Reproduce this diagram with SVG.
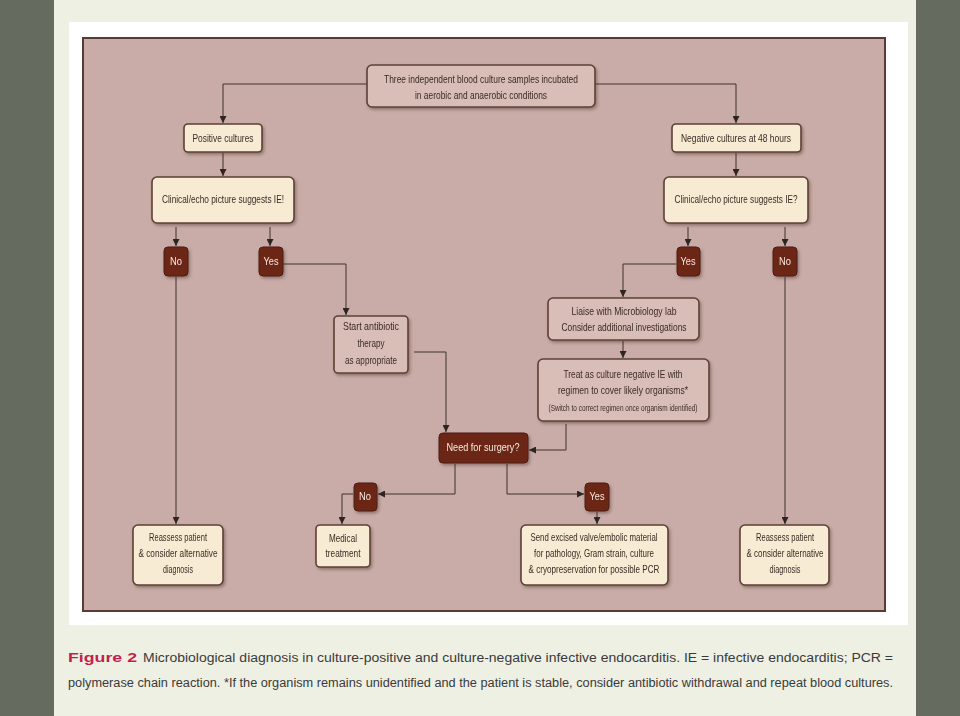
<svg xmlns="http://www.w3.org/2000/svg" width="960" height="716" viewBox="0 0 960 716">
<defs>
<style>
.t{font-family:"Liberation Sans",Arial,sans-serif;font-size:10.5px;fill:#3b2a26;text-anchor:middle}
.ts{font-family:"Liberation Sans",Arial,sans-serif;font-size:8.5px;fill:#3b2a26;text-anchor:middle}
.w{font-family:"Liberation Sans",Arial,sans-serif;font-size:10.5px;fill:#f6e8dc;text-anchor:middle}
.cream{fill:#f8ebd3;stroke:#5e4037;stroke-width:1.6}
.pinkb{fill:#d8beb6;stroke:#5e4037;stroke-width:1.6}
.dark{fill:#6c2819;stroke:#4a1a10;stroke-width:1}
.c{fill:none;stroke:#3e302c;stroke-width:1}
.cap{font-family:"Liberation Sans",Arial,sans-serif;font-size:12.5px;fill:#3a3a3a}
</style>
<marker id="ah" viewBox="0 0 8 8" refX="8" refY="4" markerWidth="7" markerHeight="7" markerUnits="userSpaceOnUse" orient="auto">
<path d="M0,0 L8,4 L0,8 z" fill="#2e2422"/>
</marker>
<filter id="sh" x="-20%" y="-20%" width="140%" height="150%">
<feDropShadow dx="1.5" dy="2" stdDeviation="1.5" flood-color="#4a3029" flood-opacity="0.45"/>
</filter>
</defs>

<rect x="0" y="0" width="960" height="716" fill="#eef0e4"/>
<rect x="0" y="0" width="54" height="716" fill="#666b5f"/>
<rect x="916" y="0" width="44" height="716" fill="#666b5f"/>
<rect x="69" y="22" width="839" height="603" fill="#ffffff"/>
<rect x="83" y="38" width="802" height="573" fill="#c9aca7" stroke="#5a3a32" stroke-width="2"/>

<g id="connectors">
<path class="c" d="M367 84 H223 V123" marker-end="url(#ah)"/>
<path class="c" d="M595 84 H736 V123" marker-end="url(#ah)"/>
<path class="c" d="M223 153 V176" marker-end="url(#ah)"/>
<path class="c" d="M736 153 V176" marker-end="url(#ah)"/>
<path class="c" d="M176 227 V246" marker-end="url(#ah)"/>
<path class="c" d="M270 227 V246" marker-end="url(#ah)"/>
<path class="c" d="M688 227 V246" marker-end="url(#ah)"/>
<path class="c" d="M785 227 V246" marker-end="url(#ah)"/>
<path class="c" d="M176 277 V524" marker-end="url(#ah)"/>
<path class="c" d="M283 264 H346 V315" marker-end="url(#ah)"/>
<path class="c" d="M676 264 H623 V297" marker-end="url(#ah)"/>
<path class="c" d="M785 277 V524" marker-end="url(#ah)"/>
<path class="c" d="M623 341 V358" marker-end="url(#ah)"/>
<path class="c" d="M414 352 H446 V432" marker-end="url(#ah)"/>
<path class="c" d="M566 424 V450 H529" marker-end="url(#ah)"/>
<path class="c" d="M455 464 V494 H378" marker-end="url(#ah)"/>
<path class="c" d="M353 494 H342 V524" marker-end="url(#ah)"/>
<path class="c" d="M507 464 V494 H584" marker-end="url(#ah)"/>
<path class="c" d="M597 512 V524" marker-end="url(#ah)"/>
</g>

<g id="start" filter="url(#sh)">
<rect class="pinkb" x="367" y="65" width="228" height="42" rx="5"/>
<text class="t" x="481" y="83" textLength="194" lengthAdjust="spacingAndGlyphs">Three independent blood culture samples incubated</text>
<text class="t" x="481" y="99" textLength="132" lengthAdjust="spacingAndGlyphs">in aerobic and anaerobic conditions</text>
</g>

<g id="positive" filter="url(#sh)">
<rect class="cream" x="184" y="124" width="78" height="28" rx="4"/>
<text class="t" x="223" y="142" textLength="61" lengthAdjust="spacingAndGlyphs">Positive cultures</text>
</g>

<g id="negative" filter="url(#sh)">
<rect class="cream" x="672" y="124" width="129" height="28" rx="4"/>
<text class="t" x="736" y="142" textLength="110" lengthAdjust="spacingAndGlyphs">Negative cultures at 48 hours</text>
</g>

<g id="clinical-left" filter="url(#sh)">
<rect class="cream" x="152" y="177" width="142" height="46" rx="5"/>
<text class="t" x="223" y="203" textLength="122" lengthAdjust="spacingAndGlyphs">Clinical/echo picture suggests IE!</text>
</g>

<g id="clinical-right" filter="url(#sh)">
<rect class="cream" x="664" y="177" width="144" height="46" rx="5"/>
<text class="t" x="736" y="203" textLength="123" lengthAdjust="spacingAndGlyphs">Clinical/echo picture suggests IE?</text>
</g>

<g id="no-left" filter="url(#sh)">
<rect class="dark" x="164" y="247" width="24" height="29" rx="4"/>
<text class="w" x="176" y="265" textLength="12" lengthAdjust="spacingAndGlyphs">No</text>
</g>
<g id="yes-left" filter="url(#sh)">
<rect class="dark" x="259" y="247" width="24" height="29" rx="4"/>
<text class="w" x="271" y="265" textLength="15" lengthAdjust="spacingAndGlyphs">Yes</text>
</g>
<g id="yes-right" filter="url(#sh)">
<rect class="dark" x="677" y="247" width="23" height="29" rx="4"/>
<text class="w" x="688" y="265" textLength="15" lengthAdjust="spacingAndGlyphs">Yes</text>
</g>
<g id="no-right" filter="url(#sh)">
<rect class="dark" x="773" y="247" width="24" height="29" rx="4"/>
<text class="w" x="785" y="265" textLength="12" lengthAdjust="spacingAndGlyphs">No</text>
</g>

<g id="start-antibiotic" filter="url(#sh)">
<rect class="pinkb" x="334" y="316" width="74" height="57" rx="4"/>
<text class="t" x="371" y="330" textLength="56" lengthAdjust="spacingAndGlyphs">Start antibiotic</text>
<text class="t" x="371" y="347" textLength="27" lengthAdjust="spacingAndGlyphs">therapy</text>
<text class="t" x="371" y="364" textLength="52" lengthAdjust="spacingAndGlyphs">as appropriate</text>
</g>

<g id="liaise" filter="url(#sh)">
<rect class="pinkb" x="548" y="298" width="151" height="42" rx="5"/>
<text class="t" x="624" y="315" textLength="105" lengthAdjust="spacingAndGlyphs">Liaise with Microbiology lab</text>
<text class="t" x="624" y="331" textLength="125" lengthAdjust="spacingAndGlyphs">Consider additional investigations</text>
</g>

<g id="treat" filter="url(#sh)">
<rect class="pinkb" x="538" y="359" width="171" height="62" rx="5"/>
<text class="t" x="623" y="378" textLength="119" lengthAdjust="spacingAndGlyphs">Treat as culture negative IE with</text>
<text class="t" x="623" y="394" textLength="130" lengthAdjust="spacingAndGlyphs">regimen to cover likely organisms*</text>
<text class="ts" x="623" y="411" textLength="149" lengthAdjust="spacingAndGlyphs">(Switch to correct regimen once organism identified)</text>
</g>

<g id="surgery" filter="url(#sh)">
<rect class="dark" x="439" y="433" width="89" height="30" rx="4"/>
<text class="w" x="483" y="451" textLength="73" lengthAdjust="spacingAndGlyphs">Need for surgery?</text>
</g>

<g id="no-surgery" filter="url(#sh)">
<rect class="dark" x="354" y="483" width="23" height="28" rx="4"/>
<text class="w" x="365" y="500" textLength="12" lengthAdjust="spacingAndGlyphs">No</text>
</g>
<g id="yes-surgery" filter="url(#sh)">
<rect class="dark" x="585" y="483" width="24" height="28" rx="4"/>
<text class="w" x="597" y="500" textLength="15" lengthAdjust="spacingAndGlyphs">Yes</text>
</g>

<g id="reassess-left" filter="url(#sh)">
<rect class="cream" x="133" y="525" width="90" height="60" rx="5"/>
<text class="t" x="178" y="541" textLength="58" lengthAdjust="spacingAndGlyphs">Reassess patient</text>
<text class="t" x="178" y="557" textLength="79" lengthAdjust="spacingAndGlyphs">&amp; consider alternative</text>
<text class="t" x="178" y="573" textLength="30" lengthAdjust="spacingAndGlyphs">diagnosis</text>
</g>

<g id="medical" filter="url(#sh)">
<rect class="cream" x="316" y="525" width="54" height="42" rx="4"/>
<text class="t" x="343" y="542" textLength="28" lengthAdjust="spacingAndGlyphs">Medical</text>
<text class="t" x="343" y="557" textLength="35" lengthAdjust="spacingAndGlyphs">treatment</text>
</g>

<g id="send" filter="url(#sh)">
<rect class="cream" x="521" y="525" width="147" height="60" rx="5"/>
<text class="t" x="594" y="541" textLength="127" lengthAdjust="spacingAndGlyphs">Send excised valve/embolic material</text>
<text class="t" x="594" y="557" textLength="120" lengthAdjust="spacingAndGlyphs">for pathology, Gram strain, culture</text>
<text class="t" x="594" y="573" textLength="131" lengthAdjust="spacingAndGlyphs">&amp; cryopreservation for possible PCR</text>
</g>

<g id="reassess-right" filter="url(#sh)">
<rect class="cream" x="740" y="525" width="89" height="60" rx="5"/>
<text class="t" x="785" y="541" textLength="58" lengthAdjust="spacingAndGlyphs">Reassess patient</text>
<text class="t" x="785" y="557" textLength="77" lengthAdjust="spacingAndGlyphs">&amp; consider alternative</text>
<text class="t" x="785" y="573" textLength="31" lengthAdjust="spacingAndGlyphs">diagnosis</text>
</g>

<g id="caption">
<text class="cap" x="68" y="662" font-weight="bold" style="fill:#c41e4a;font-size:13.5px" textLength="69" lengthAdjust="spacingAndGlyphs">Figure 2</text>
<text class="cap" x="143" y="662" textLength="750" lengthAdjust="spacingAndGlyphs">Microbiological diagnosis in culture-positive and culture-negative infective endocarditis. IE = infective endocarditis; PCR =</text>
<text class="cap" x="68" y="687" style="font-size:12px" textLength="825" lengthAdjust="spacingAndGlyphs">polymerase chain reaction. *If the organism remains unidentified and the patient is stable, consider antibiotic withdrawal and repeat blood cultures.</text>
</g>
</svg>
